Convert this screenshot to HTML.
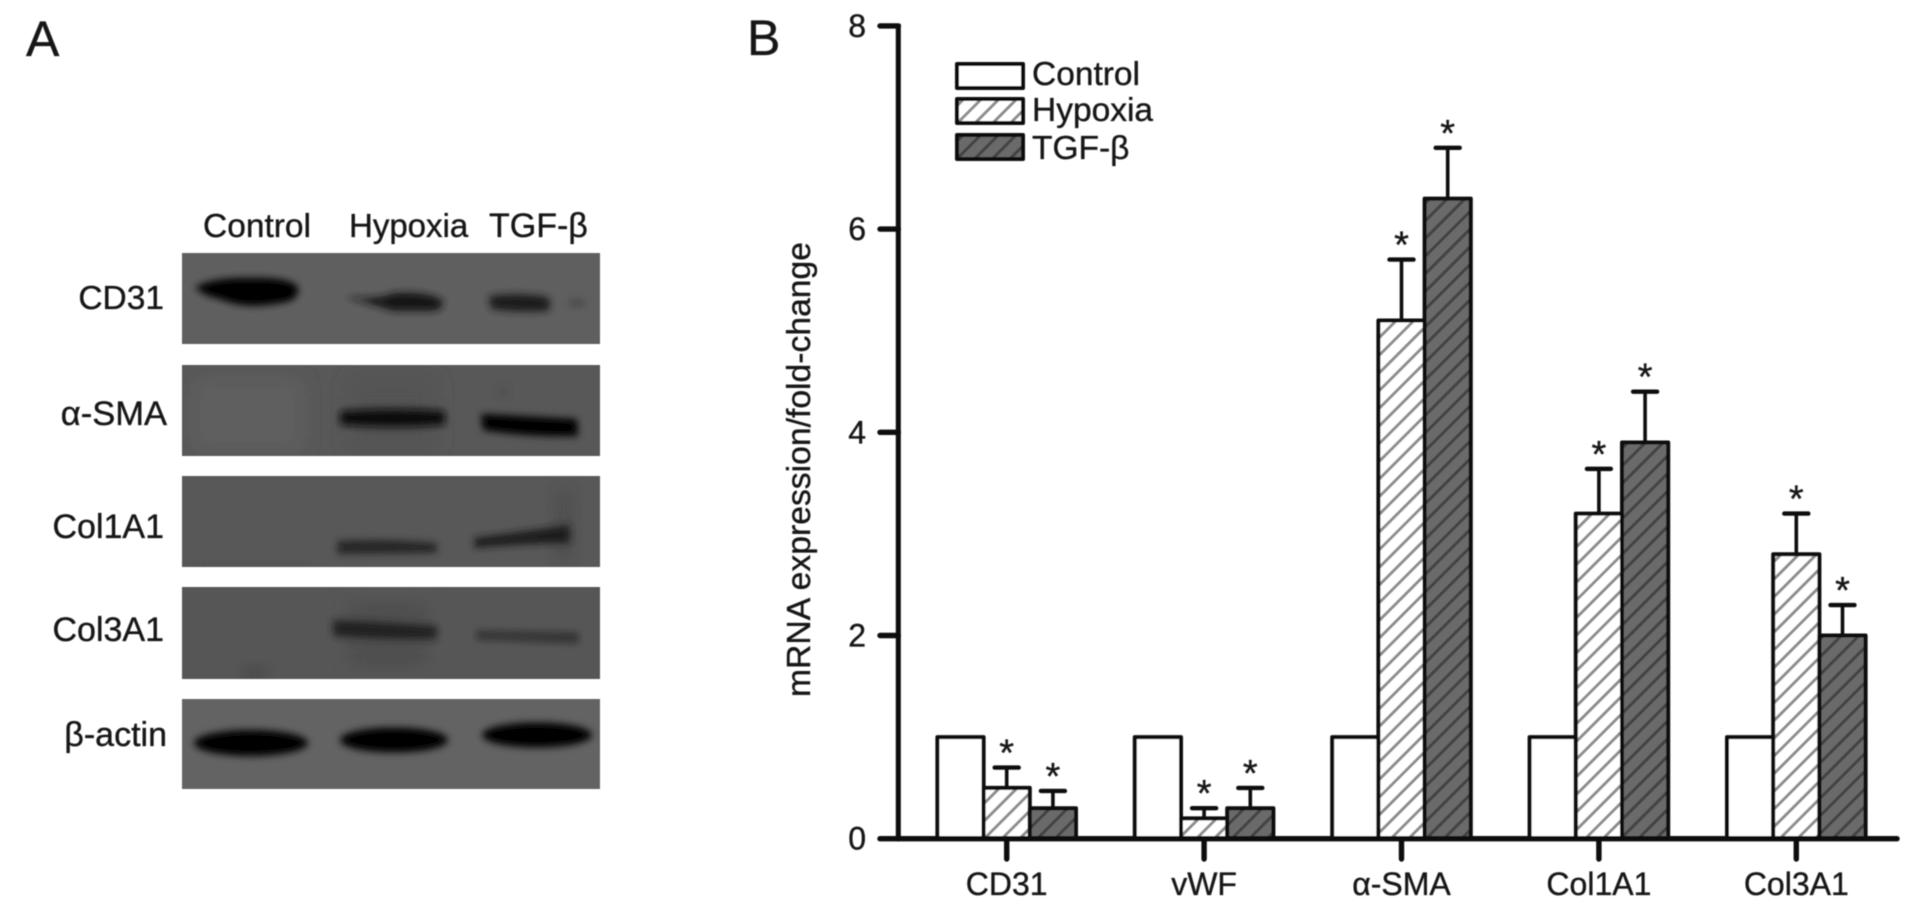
<!DOCTYPE html>
<html lang="en">
<head>
<meta charset="utf-8">
<title>Western blot and mRNA expression figure</title>
<style>
  html, body { margin: 0; padding: 0; background: #fff; }
  #figure { display: block; width: 1913px; height: 909px; }
  text { font-family: "Liberation Sans", "DejaVu Sans", sans-serif; fill: #141414; stroke: #141414; stroke-width: 0.35px; }
</style>
</head>
<body>
<svg id="figure" xmlns="http://www.w3.org/2000/svg" width="1913" height="909" viewBox="0 0 1913 909">
  <defs>
    <pattern id="hatch-light" patternUnits="userSpaceOnUse" width="12.5" height="12.5" patternTransform="rotate(45)">
      <rect width="12.5" height="12.5" fill="#ffffff"></rect>
      <rect width="3" height="12.5" fill="#8c8c8c"></rect>
    </pattern>
    <pattern id="hatch-dark" patternUnits="userSpaceOnUse" width="12.5" height="12.5" patternTransform="rotate(45)">
      <rect width="12.5" height="12.5" fill="#6a6a6a"></rect>
      <rect width="3" height="12.5" fill="#424242"></rect>
    </pattern>
    <filter id="band-blur" x="-30%" y="-150%" width="160%" height="400%"><feGaussianBlur stdDeviation="3.8"></feGaussianBlur></filter>
    <filter id="patch-blur" x="-30%" y="-30%" width="160%" height="160%"><feGaussianBlur stdDeviation="9"></feGaussianBlur></filter>
    <filter id="soft" x="-5%" y="-5%" width="110%" height="110%"><feGaussianBlur stdDeviation="0.6"></feGaussianBlur></filter>
    <clipPath id="clip-blot-1"><rect x="182" y="253" width="418" height="91"></rect></clipPath>
    <clipPath id="clip-blot-2"><rect x="182" y="365" width="418" height="91"></rect></clipPath>
    <clipPath id="clip-blot-3"><rect x="182" y="476" width="418" height="91"></rect></clipPath>
    <clipPath id="clip-blot-4"><rect x="182" y="587" width="418" height="92"></rect></clipPath>
    <clipPath id="clip-blot-5"><rect x="182" y="699" width="418" height="90"></rect></clipPath>
  </defs>

  <g id="root" filter="url(#soft)">
    <text x="26" y="56" font-size="50">A</text>
    <text x="747" y="55" font-size="50">B</text>

    <g>
      <text x="203" y="237" font-size="33.5">Control</text>
      <text x="349" y="237" font-size="33">Hypoxia</text>
      <text x="489" y="237" font-size="34">TGF-β</text>

      <text x="164" y="309" font-size="33.5" text-anchor="end">CD31</text>
      <text x="167" y="425" font-size="34.5" text-anchor="end">α-SMA</text>
      <text x="164" y="538" font-size="34" text-anchor="end">Col1A1</text>
      <text x="164" y="641" font-size="34" text-anchor="end">Col3A1</text>
      <text x="167" y="746" font-size="34" text-anchor="end">β-actin</text>

      <g>
        <rect x="182" y="253" width="418" height="91" fill="#5f5f5f"></rect>
        <g clip-path="url(#clip-blot-1)" filter="url(#band-blur)">
          <path d="M195 287 Q215 277 250 278 Q290 277 298 287 Q300 301 280 303 Q245 310 220 299 Q203 296 195 287 Z" fill="#050505"></path>
          <path d="M345 297 Q380 300 393 293 Q430 291 443 301 Q444 312 425 311 L393 311 Q372 304 345 297 Z" fill="#151515"></path>
          <path d="M489 296 Q520 292 547 297 Q554 304 547 311 Q520 313 491 309 Z" fill="#1c1c1c"></path>
          <ellipse cx="577" cy="303" rx="9" ry="3.5" fill="#474747"></ellipse>
        </g>
      </g>

      <g>
        <rect x="182" y="365" width="418" height="91" fill="#585858"></rect>
        <g clip-path="url(#clip-blot-2)">
          <rect x="192" y="380" width="110" height="70" fill="#5e5e5e" filter="url(#patch-blur)"></rect>
          <rect x="350" y="380" width="85" height="70" fill="#525252" filter="url(#patch-blur)"></rect>
          <g filter="url(#band-blur)">
            <path d="M340 411 Q395 407 445 411 L445 425 Q395 429 340 425 Z" fill="#101010"></path>
            <path d="M481 414 Q520 416 577 419 L578 436 Q525 437 483 430 Z" fill="#060606"></path>
            <circle cx="503" cy="391" r="4" fill="#4a4a4a"></circle>
          </g>
        </g>
      </g>

      <g>
        <rect x="182" y="476" width="418" height="91" fill="#595959"></rect>
        <g clip-path="url(#clip-blot-3)">
          <rect x="190" y="563" width="120" height="8" fill="#484848" filter="url(#patch-blur)"></rect>
          <rect x="552" y="486" width="24" height="80" fill="#505050" filter="url(#patch-blur)"></rect>
          <g filter="url(#band-blur)">
            <path d="M337 541 Q385 538 437 543 L437 553 Q385 554 337 554 Z" fill="#262626"></path>
            <path d="M474 538 Q520 532 570 525 L570 543 Q520 544 474 548 Z" fill="#1e1e1e"></path>
          </g>
        </g>
      </g>

      <g>
        <rect x="182" y="587" width="418" height="92" fill="#575757"></rect>
        <g clip-path="url(#clip-blot-4)">
          <rect x="240" y="665" width="30" height="16" fill="#484848" filter="url(#patch-blur)"></rect>
          <rect x="345" y="600" width="85" height="70" fill="#505050" filter="url(#patch-blur)"></rect>
          <g filter="url(#band-blur)">
            <path d="M333 620 Q385 622 437 626 L437 639 Q385 640 333 636 Z" fill="#202020"></path>
            <path d="M476 630 Q525 631 579 632 L579 644 Q525 642 476 640 Z" fill="#363636"></path>
          </g>
        </g>
      </g>

      <g>
        <rect x="182" y="699" width="418" height="90" fill="#636363"></rect>
        <g clip-path="url(#clip-blot-5)" filter="url(#band-blur)">
          <ellipse cx="251" cy="743" rx="57" ry="13" fill="#000000"></ellipse>
          <ellipse cx="394" cy="740" rx="54" ry="12.5" fill="#000000"></ellipse>
          <ellipse cx="537" cy="735" rx="55" ry="12.5" fill="#000000"></ellipse>
        </g>
      </g>
    </g>

    <g id="chart"></g>

    <text transform="translate(810,697) rotate(-90)" font-size="33.7">mRNA expression/fold-change</text>

    <g>
      <g>
        <rect x="957" y="64" width="66" height="24" fill="#ffffff" stroke="#111" stroke-width="4" stroke-linejoin="round"></rect>
        <text x="1032" y="85" font-size="33.5">Control</text>
      </g>
      <g>
        <rect x="957" y="99" width="66" height="24" fill="url(#hatch-light)" stroke="#111" stroke-width="4" stroke-linejoin="round"></rect>
        <text x="1032" y="121" font-size="33.5">Hypoxia</text>
      </g>
      <g>
        <rect x="957" y="135" width="66" height="24" fill="url(#hatch-dark)" stroke="#111" stroke-width="4" stroke-linejoin="round"></rect>
        <text x="1032" y="159" font-size="33.5">TGF-β</text>
      </g>
    </g>
  </g>
</svg>

<script>
var categories = ['CD31', 'vWF', 'α-SMA', 'Col1A1', 'Col3A1'];
var controlValues = [1, 1, 1, 1, 1];
var hypoxiaValues = [0.5, 0.2, 5.1, 3.2, 2.8];
var tgfValues = [0.3, 0.3, 6.3, 3.9, 2.0];
var hypoxiaErrors = [0.2, 0.1, 0.6, 0.44, 0.4];
var tgfErrors = [0.17, 0.2, 0.5, 0.5, 0.3];
var yTickLabels = [0, 2, 4, 6, 8];

var NS = 'http://www.w3.org/2000/svg';
var chart = document.getElementById('chart');
var BASE_Y = 838.7;
var UNIT_H = 101.6;
var AXIS_X = 898.3;
var BAR_W = 46.2;

function yScale(v) { return BASE_Y - v * UNIT_H; }
function xCenter(i) { return 1006.7 + i * 197.4; }
function barLeft(i, s) { return xCenter(i) - BAR_W * 1.5 + s * BAR_W; }

function make(tag, attrs) {
  var el = document.createElementNS(NS, tag);
  for (var k in attrs) { el.setAttribute(k, attrs[k]); }
  chart.appendChild(el);
  return el;
}
function slug(s) {
  return s.toLowerCase().replace('α-', 'alpha-');
}

var series = [
  { key: 'control', values: controlValues, errors: null, fill: '#ffffff' },
  { key: 'hypoxia', values: hypoxiaValues, errors: hypoxiaErrors, fill: 'url(#hatch-light)' },
  { key: 'tgf-beta', values: tgfValues, errors: tgfErrors, fill: 'url(#hatch-dark)' }
];

series.forEach(function (sr, s) {
  categories.forEach(function (cat, i) {
    var v = sr.values[i];
    var cx = barLeft(i, s) + BAR_W / 2;
    if (sr.errors) {
      var topV = v + sr.errors[i];
      var stem = make('line', { x1: cx, x2: cx, y1: yScale(v), y2: yScale(topV), stroke: '#111', 'stroke-width': 3.6 });
      
      
      var cap = make('line', { x1: cx - 12, x2: cx + 12, y1: yScale(topV), y2: yScale(topV), stroke: '#111', 'stroke-width': 4.4, 'stroke-linecap': 'round' });
      
      
      var star = make('text', { x: cx, y: yScale(topV) - 2, 'font-size': 38, 'text-anchor': 'middle' });
      star.textContent = '*';
      
      
    }
  });
});

series.forEach(function (sr, s) {
  categories.forEach(function (cat, i) {
    var v = sr.values[i];
    var bar = make('rect', {
      x: barLeft(i, s), y: yScale(v), width: BAR_W, height: BASE_Y - yScale(v),
      fill: sr.fill, stroke: '#0c0c0c', 'stroke-width': 4, 'stroke-linejoin': 'round'
    });
    
    
  });
});

var yAxis = make('line', { x1: AXIS_X, x2: AXIS_X, y1: yScale(8) - 2, y2: BASE_Y, stroke: '#080808', 'stroke-width': 5 });



var xAxis = make('line', { x1: AXIS_X, x2: 1897, y1: BASE_Y, y2: BASE_Y, stroke: '#080808', 'stroke-width': 5.4, 'stroke-linecap': 'round' });



yTickLabels.forEach(function (t) {
  var tick = make('line', { x1: 880, x2: AXIS_X, y1: yScale(t), y2: yScale(t), stroke: '#080808', 'stroke-width': 5.4, 'stroke-linecap': 'round' });
  
  
  var lab = make('text', { x: 866, y: yScale(t) + 11, 'font-size': 32, 'text-anchor': 'end' });
  lab.textContent = String(t);
  
  
});

categories.forEach(function (cat, i) {
  var tick = make('line', { x1: xCenter(i), x2: xCenter(i), y1: BASE_Y, y2: 859, stroke: '#080808', 'stroke-width': 5.4, 'stroke-linecap': 'round' });
  
  
  var lab = make('text', { x: xCenter(i), y: 895, 'font-size': 32, 'text-anchor': 'middle' });
  lab.textContent = cat;
  
  
});
</script>
</body>
</html>
